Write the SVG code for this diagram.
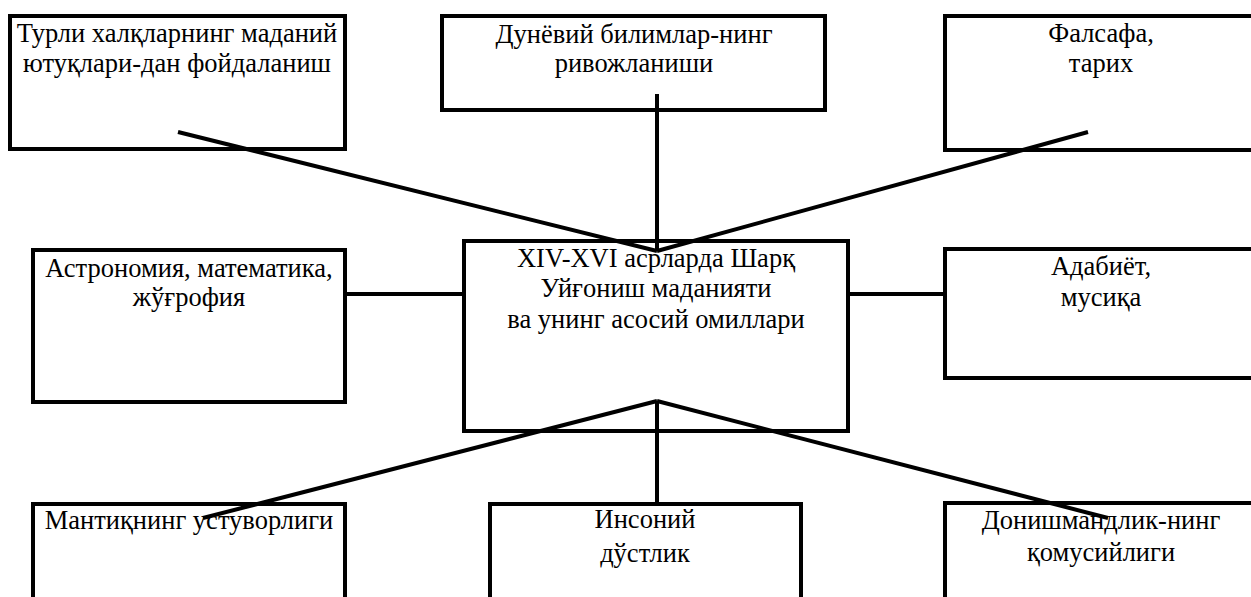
<svg xmlns="http://www.w3.org/2000/svg" width="1251" height="597" viewBox="0 0 1251 597">
<style>
.box{fill:#fff;stroke:#000;stroke-width:4}
.lbl{font-family:"Liberation Serif","Times New Roman",serif;font-size:26.5px;fill:#000;text-anchor:middle}
.con{stroke:#000;stroke-width:4;fill:none}
</style>
<rect width="1251" height="597" fill="#fff"/>
<g id="n1"><rect class="box" x="10" y="16" width="335" height="133"/>
<text class="lbl" x="177" y="42">Турли халқларнинг маданий</text><text class="lbl" x="177" y="72">ютуқлари-дан фойдаланиш</text></g>
<g id="n2"><rect class="box" x="442" y="16" width="383" height="94"/>
<text class="lbl" x="634" y="43">Дунёвий билимлар-нинг</text><text class="lbl" x="634" y="72">ривожланиши</text></g>
<g id="n3"><rect class="box" x="945" y="16" width="320" height="134"/>
<text class="lbl" x="1101" y="42">Фалсафа,</text><text class="lbl" x="1101" y="72">тарих</text></g>
<g id="n4"><rect class="box" x="33" y="250" width="312" height="152"/>
<text class="lbl" x="189" y="277">Астрономия, математика,</text><text class="lbl" x="189" y="306">жўғрофия</text></g>
<g id="n5"><rect class="box" x="464" y="241" width="384" height="190"/>
<text class="lbl" x="656" y="267">XIV-XVI асрларда Шарқ</text><text class="lbl" x="656" y="297">Уйғониш маданияти</text><text class="lbl" x="656" y="328">ва унинг асосий омиллари</text></g>
<g id="n6"><rect class="box" x="945" y="249" width="320" height="129"/>
<text class="lbl" x="1101" y="275">Адабиёт,</text><text class="lbl" x="1101" y="306">мусиқа</text></g>
<g id="n7"><rect class="box" x="33" y="504" width="312" height="120"/>
<text class="lbl" x="189" y="529">Мантиқнинг устуворлиги</text></g>
<g id="n8"><rect class="box" x="490" y="504" width="311" height="120"/>
<text class="lbl" x="645" y="528">Инсоний</text><text class="lbl" x="645" y="562">дўстлик</text></g>
<g id="n9"><rect class="box" x="945" y="503" width="320" height="120"/>
<text class="lbl" x="1101" y="529">Донишмандлик-нинг</text><text class="lbl" x="1101" y="561">қомусийлиги</text></g>
<g id="connectors">
<line class="con" x1="178" y1="132" x2="657" y2="251"/>
<line class="con" x1="657" y1="94" x2="657" y2="251"/>
<line class="con" x1="1088" y1="132" x2="657" y2="251"/>
<line class="con" x1="345" y1="294" x2="464" y2="294"/>
<line class="con" x1="848" y1="294" x2="945" y2="294"/>
<line class="con" x1="657" y1="401" x2="203" y2="518"/>
<line class="con" x1="657" y1="401" x2="657" y2="504"/>
<line class="con" x1="657" y1="401" x2="1108" y2="518"/>
</g>
</svg>
